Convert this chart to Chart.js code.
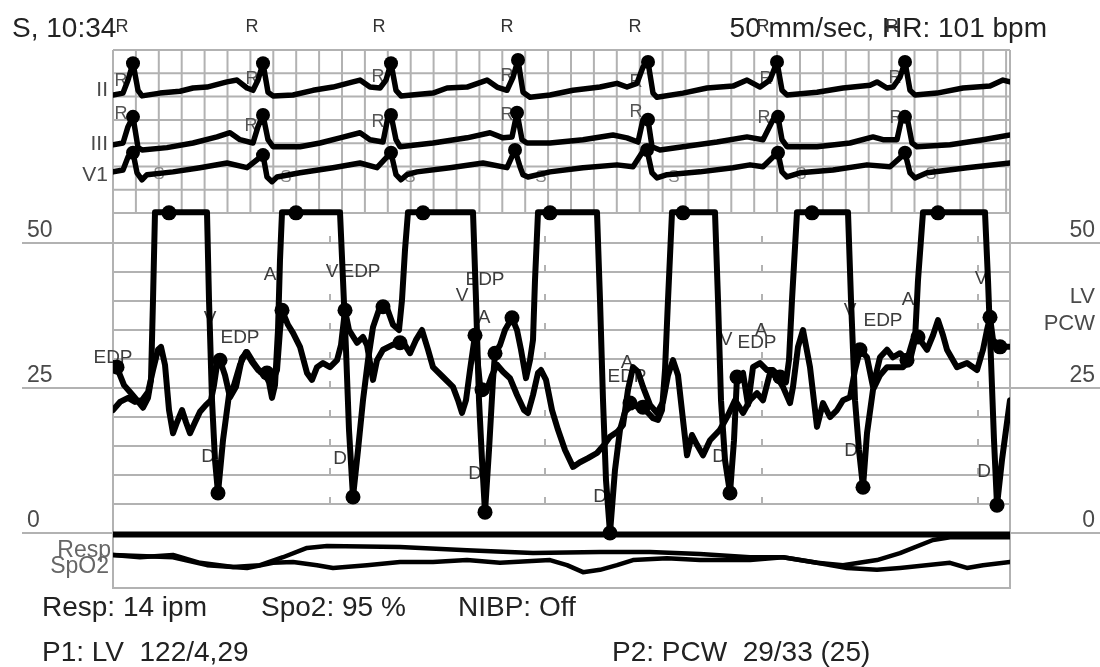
<!DOCTYPE html>
<html>
<head>
<meta charset="utf-8">
<script src="https://cdn.jsdelivr.net/npm/chart.js@4.4.0/dist/chart.umd.min.js"></script>
<style>
  body { margin: 0; background: #fff; }
  #wrap { width: 1100px; height: 667px; position: relative; }
</style>
</head>
<body>
<div id="wrap"><canvas id="hemo-chart"></canvas></div>
<script>
// x = sample index along the sweep (about 4.6 ms each at 50 mm/sec)
// pressures in mmHg, ECG in mV from each lead's baseline

var lvPressure = [
  [0, 29.3], [5, 28.1], [11, 25.5], [17, 24.3], [24, 22.9], [30, 21.6], [35, 23.3], [38, 26.4], [40, 40.2], [42, 55.3],
  [94, 55.3], [96, 40.2], [99, 22.9], [102, 12.6], [105, 6.9], [110, 16.0], [116, 23.8], [121, 25.5], [127, 29.0], [133, 31.2],
  [139, 29.5], [145, 28.1], [151, 27.8], [156, 26.0], [159, 23.3], [162, 25.5], [165, 35.0], [167, 47.1], [169, 55.3],
  [227, 55.3], [230, 43.6], [233, 31.6], [236, 17.8], [240, 6.2], [245, 14.3], [250, 22.9], [255, 29.8], [260, 35.5], [267, 39.0],
  [274, 38.8], [280, 35.9], [286, 35.0], [289, 40.2], [292, 48.8], [295, 55.3],
  [360, 55.3], [363, 40.2], [366, 22.9], [369, 12.6], [372, 3.6], [376, 14.3], [380, 26.4], [382, 31.0], [387, 32.4], [392, 35.0],
  [399, 37.1], [404, 35.0], [408, 31.6], [413, 26.7], [417, 29.8], [420, 33.3], [422, 43.6], [425, 55.3],
  [484, 55.3], [487, 40.2], [490, 22.9], [493, 9.1], [497, 0.0], [502, 10.9], [507, 17.8], [512, 20.9], [519, 22.1], [527, 21.6],
  [534, 20.9], [540, 19.8], [545, 19.5], [549, 21.2], [552, 28.1], [555, 40.2], [559, 55.3],
  [602, 55.3], [605, 40.2], [608, 22.9], [612, 12.6], [617, 6.9], [621, 16.0], [624, 26.9], [630, 27.6], [635, 22.1], [640, 28.6],
  [647, 29.3], [654, 28.1], [660, 28.1], [667, 26.9], [673, 26.0], [676, 29.8], [679, 40.2], [684, 55.3],
  [735, 55.3], [738, 40.2], [742, 22.9], [746, 14.3], [750, 7.9], [754, 17.2], [760, 24.7], [767, 27.2], [774, 28.6], [782, 28.6],
  [790, 28.6], [797, 29.8], [802, 33.3], [805, 43.6], [810, 55.3],
  [872, 55.3], [875, 43.6], [878, 29.8], [881, 16.0], [884, 4.8], [889, 12.6], [893, 17.8], [897, 22.9]
];

var pcwPressure = [
  [0, 21.2], [7, 22.6], [15, 23.3], [22, 22.6], [29, 22.9], [35, 24.3], [40, 28.1], [45, 31.6], [48, 32.1], [52, 29.0],
  [56, 21.2], [60, 17.2], [64, 19.1], [69, 21.2], [73, 19.1], [77, 17.2], [82, 19.1], [87, 20.9], [93, 22.1], [98, 22.9],
  [101, 25.5], [104, 29.0], [107, 29.8], [112, 27.2], [117, 23.4], [123, 25.2], [129, 30.2], [134, 31.2], [140, 29.5], [147, 27.8],
  [154, 26.9], [160, 26.4], [164, 28.1], [167, 35.0], [169, 38.4], [175, 35.9], [180, 34.5], [187, 32.1], [194, 27.6], [199, 26.4],
  [204, 28.6], [210, 29.3], [217, 28.6], [224, 29.8], [228, 32.4], [232, 38.4], [236, 35.0], [244, 32.8], [250, 33.8], [254, 32.4],
  [260, 26.4], [264, 29.8], [270, 31.6], [279, 32.4], [285, 32.8], [292, 32.4], [297, 31.0], [303, 33.3], [309, 35.0], [315, 31.6],
  [320, 28.6], [330, 26.9], [340, 25.2], [345, 22.9], [349, 20.7], [353, 22.9], [357, 28.1], [362, 34.1], [367, 25.5], [373, 24.3],
  [379, 27.2], [384, 29.0], [390, 27.8], [397, 26.7], [404, 23.8], [411, 21.2], [415, 20.7], [420, 23.8], [425, 27.6], [428, 28.1],
  [433, 26.4], [439, 21.2], [445, 17.8], [452, 14.3], [460, 11.4], [467, 12.2], [475, 12.9], [484, 13.8], [491, 15.2], [497, 16.6],
  [504, 17.4], [510, 18.6], [515, 24.7], [520, 28.6], [525, 27.8], [530, 25.2], [537, 22.1], [544, 20.7], [550, 22.6], [555, 27.2],
  [560, 29.8], [565, 27.2], [570, 19.5], [574, 13.4], [579, 16.9], [584, 15.2], [590, 13.4], [597, 16.0], [607, 17.8], [615, 20.3],
  [622, 22.9], [630, 20.7], [637, 22.9], [644, 24.1], [650, 22.9], [657, 27.6], [664, 26.9], [670, 25.2], [677, 22.4], [680, 25.2],
  [685, 32.1], [690, 35.0], [697, 28.6], [704, 18.3], [710, 22.4], [717, 20.0], [724, 21.2], [730, 22.9], [737, 23.4], [742, 28.1],
  [747, 31.6], [754, 30.3], [760, 25.2], [767, 30.3], [774, 31.6], [780, 30.3], [787, 31.0], [794, 29.8], [800, 33.3], [805, 33.8],
  [814, 31.6], [820, 34.1], [825, 36.7], [830, 34.1], [834, 31.6], [844, 28.6], [854, 29.3], [864, 28.1], [870, 31.6], [874, 35.0],
  [877, 37.2], [880, 33.3], [885, 32.4], [890, 32.1], [897, 32.1]
];

var lvPeakDots = [[56, 55.2], [183, 55.2], [310, 55.2], [437, 55.2], [570, 55.2], [699, 55.2], [825, 55.2]];
var lvTroughDots = [[105, 6.9], [240, 6.2], [372, 3.6], [497, 0.0], [617, 6.9], [750, 7.9], [884, 4.8]];
var waveDots = [
  [4, 28.6], [107, 29.8], [154, 27.6], [169, 38.4], [232, 38.4], [270, 39.0], [287, 32.8], [362, 34.1], [369, 24.7],
  [382, 31.0], [399, 37.1], [517, 22.4], [530, 21.7], [624, 26.9], [667, 26.9], [747, 31.6], [794, 29.8], [805, 33.8],
  [877, 37.2], [887, 32.1]
];

var ecgII = [
  [0, -0.04], [10, 0], [15, 0.28], [20, 0.64], [25, 0.06], [29, -0.06], [47, 0], [67, 0.04], [80, 0.11], [94, 0.13],
  [114, 0.24], [124, 0.28], [134, 0.11], [140, 0.06], [145, 0.28], [150, 0.64], [155, 0.02], [160, -0.06], [180, -0.04], [200, 0.06],
  [220, 0.13], [240, 0.24], [247, 0.28], [257, 0.13], [267, 0.11], [273, 0.28], [278, 0.64], [283, 0.06], [288, -0.06], [320, 0],
  [334, 0.11], [354, 0.13], [374, 0.28], [384, 0.13], [394, 0.06], [400, 0.34], [405, 0.71], [410, 0.02], [417, -0.09], [437, -0.04],
  [460, 0.06], [487, 0.13], [504, 0.21], [514, 0.13], [524, 0.21], [530, 0.56], [535, 0.67], [540, 0], [544, -0.09], [570, 0],
  [594, 0.11], [620, 0.15], [634, 0.28], [647, 0.13], [657, 0.28], [664, 0.67], [669, 0.06], [674, -0.04], [704, 0.02], [730, 0.11],
  [757, 0.17], [764, 0.24], [774, 0.11], [780, 0.13], [787, 0.34], [792, 0.67], [797, 0.06], [802, -0.04], [824, 0], [850, 0.11],
  [877, 0.15], [890, 0.28], [897, 0.24]
];
var ecgIII = [
  [0, 0], [10, 0.04], [15, 0.39], [20, 0.60], [25, -0.06], [29, -0.11], [54, -0.06], [80, 0.04], [104, 0.17], [117, 0.26],
  [127, 0.11], [140, 0.04], [145, 0.39], [150, 0.64], [155, 0.11], [160, -0.04], [187, -0.04], [207, 0.04], [227, 0.15], [247, 0.26],
  [257, 0.11], [270, 0.06], [275, 0.60], [278, 0.64], [283, 0.11], [287, -0.04], [320, 0.04], [354, 0.15], [377, 0.26], [390, 0.15],
  [399, 0.17], [404, 0.69], [409, 0.11], [414, 0.04], [437, 0.04], [470, 0.11], [500, 0.21], [514, 0.15], [525, 0.06], [530, 0.54],
  [535, 0.54], [539, -0.04], [547, -0.11], [570, -0.04], [604, 0.06], [634, 0.17], [650, 0.11], [660, 0.54], [665, 0.60], [669, 0.11],
  [674, -0.04], [704, -0.04], [737, 0.04], [760, 0.17], [770, 0.11], [784, 0.11], [789, 0.60], [794, 0.60], [799, 0.04], [804, -0.04],
  [837, 0], [870, 0.11], [897, 0.21]
];
var ecgV1 = [
  [0, 0], [10, 0.04], [15, 0.32], [20, 0.41], [24, -0.02], [29, -0.17], [34, -0.06], [60, 0], [87, 0.09], [114, 0.19],
  [134, 0.09], [144, 0.26], [150, 0.36], [154, -0.11], [159, -0.21], [164, -0.11], [187, -0.02], [220, 0.09], [247, 0.19], [264, 0.09],
  [274, 0.32], [278, 0.41], [283, -0.06], [288, -0.17], [294, -0.06], [304, 0], [337, 0.09], [370, 0.19], [394, 0.09], [402, 0.47],
  [407, 0.11], [410, -0.06], [415, -0.11], [437, 0], [470, 0.09], [504, 0.15], [520, 0.11], [529, 0.41], [534, 0.47], [539, -0.02],
  [544, -0.13], [554, -0.06], [587, 0], [620, 0.09], [637, 0.15], [650, 0.11], [660, 0.32], [665, 0.41], [669, 0], [674, -0.11],
  [687, -0.02], [720, 0.04], [754, 0.15], [777, 0.11], [787, 0.30], [792, 0.41], [797, -0.02], [802, -0.13], [814, -0.02], [854, 0.09],
  [897, 0.19]
];
var rDotsII = [[20, 0.64], [150, 0.64], [278, 0.64], [405, 0.71], [535, 0.67], [664, 0.67], [792, 0.67]];
var rDotsIII = [[20, 0.60], [150, 0.64], [278, 0.64], [404, 0.69], [535, 0.54], [665, 0.60], [792, 0.60]];
var rDotsV1 = [[20, 0.41], [150, 0.36], [278, 0.41], [402, 0.47], [534, 0.47], [665, 0.41], [792, 0.41]];

var respTrace = [
  [0, 0.11], [27, 0.06], [60, 0.11], [87, -0.06], [120, -0.15], [147, -0.11], [170, 0.06], [194, 0.26], [214, 0.30], [287, 0.28],
  [354, 0.21], [420, 0.15], [487, 0.17], [537, 0.17], [587, 0.13], [637, 0.06], [670, 0.06], [704, -0.06], [730, -0.11], [764, 0],
  [787, 0.15], [820, 0.43], [837, 0.49], [897, 0.49]
];
var spo2Trace = [
  [0, 0.11], [60, 0.06], [94, -0.11], [134, -0.17], [160, -0.06], [180, -0.04], [204, -0.11], [220, -0.17], [254, -0.11], [287, -0.04],
  [320, -0.04], [354, 0], [387, -0.06], [437, 0], [454, -0.11], [470, -0.26], [487, -0.21], [504, -0.11], [520, 0], [554, 0.04],
  [587, 0], [637, 0], [670, 0.06], [704, -0.06], [734, -0.17], [764, -0.21], [787, -0.17], [837, -0.06], [854, -0.17], [870, -0.11],
  [897, -0.04]
];
var zeroTrace = [[0, -0.25], [897, -0.25]];

// marker letters written by the monitor: [sample, mmHg, text]
var pressureLabels = [
  [0, 30.2, 'EDP'], [97, 36.9, 'V'], [127, 33.6, 'EDP'], [95, 13.1, 'D'], [157, 44.5, 'A'], [219, 45.0, 'V'], [248, 45.0, 'EDP'],
  [227, 12.8, 'D'], [372, 43.6, 'EDP'], [349, 40.9, 'V'], [371, 37.1, 'A'], [362, 10.2, 'D'], [514, 29.3, 'A'], [514, 26.9, 'EDP'],
  [487, 6.2, 'D'], [613, 33.4, 'V'], [644, 32.8, 'EDP'], [648, 34.8, 'A'], [606, 13.1, 'D'], [737, 38.3, 'V'], [770, 36.6, 'EDP'],
  [795, 40.2, 'A'], [738, 14.1, 'D'], [868, 43.8, 'V'], [871, 10.5, 'D']
];
var rLabelsTop = [9, 139, 266, 394, 522, 650, 779];
var rLabelsII = [[8, 0.26], [139, 0.30], [265, 0.34], [394, 0.36], [523, 0.24], [653, 0.30], [782, 0.32]];
var rLabelsIII = [[8, 0.67], [138, 0.41], [265, 0.49], [394, 0.64], [523, 0.71], [651, 0.58], [783, 0.58]];
var sLabelsV1 = [[46, -0.06], [173, -0.11], [297, -0.11], [428, -0.11], [561, -0.11], [688, -0.06], [818, -0.06]];

var pressureAxisTicks = [0, 25, 50];
var pressureGridStep = 5;
var pressureGridTop = 50;

// layout of the strip axis (mV units, 1 mV = two ECG boxes)
var leadBase = { II: 10.62, III: 9.51, V1: 8.93 };
var respBase = 0.6;
var ecgPaperBottom = 8.045;
var ecgBox = 0.5;
var sweepBox = 22.9;
var secondMarks = [217, 432, 649, 865];

function pts(arr, offset) {
  return arr.map(function (p) { return { x: p[0], y: p[1] + (offset || 0) }; });
}

function trace(arr, axis, offset, width) {
  return {
    data: pts(arr, offset), yAxisID: axis, showLine: true, borderColor: '#000', backgroundColor: '#000',
    borderWidth: width, pointRadius: 0, tension: 0, borderJoinStyle: 'round', borderCapStyle: 'round'
  };
}

function dots(arr, axis, offset, r) {
  return { data: pts(arr, offset), yAxisID: axis, showLine: false, pointRadius: r, backgroundColor: '#000', borderColor: '#000', borderWidth: 0 };
}

var FONT = 'Liberation Sans, Arial, sans-serif';

var monitorGrid = {
  id: 'monitorGrid',
  beforeDatasetsDraw: function (chart) {
    var ctx = chart.ctx, a = chart.chartArea;
    var xs = chart.scales.x, yp = chart.scales.y, ys = chart.scales.yS;
    var i, px, py;
    ctx.save();
    ctx.strokeStyle = '#b2b2b2';
    ctx.lineWidth = 2;
    // ECG paper boxes
    var paperBottom = ys.getPixelForValue(ecgPaperBottom);
    ctx.beginPath();
    for (i = 0; i * sweepBox <= xs.max; i++) {
      px = xs.getPixelForValue(i * sweepBox);
      ctx.moveTo(px, a.top); ctx.lineTo(px, paperBottom);
    }
    for (i = 0; ys.max - i * ecgBox >= ecgPaperBottom - 0.01; i++) {
      py = ys.getPixelForValue(ys.max - i * ecgBox);
      ctx.moveTo(a.left, py); ctx.lineTo(a.right, py);
    }
    // pressure lines every 5 mmHg
    for (var mm = pressureGridStep; mm <= pressureGridTop; mm += pressureGridStep) {
      py = yp.getPixelForValue(mm);
      ctx.moveTo(a.left, py); ctx.lineTo(a.right, py);
      secondMarks.forEach(function (s) {
        var sx = xs.getPixelForValue(s);
        ctx.moveTo(sx, py - 7); ctx.lineTo(sx, py);
      });
    }
    // frame
    ctx.moveTo(a.left, a.top); ctx.lineTo(a.left, a.bottom); ctx.lineTo(a.right, a.bottom); ctx.lineTo(a.right, a.top);
    ctx.stroke();
    // scale lines reaching out to the side labels
    ctx.beginPath();
    pressureAxisTicks.forEach(function (v) {
      py = yp.getPixelForValue(v);
      ctx.moveTo(22, py); ctx.lineTo(a.left, py);
      ctx.moveTo(a.right, py); ctx.lineTo(chart.width, py);
    });
    ctx.stroke();

    // side labels
    ctx.fillStyle = '#4a4a4a';
    ctx.font = '23px ' + FONT;
    ctx.textBaseline = 'alphabetic';
    pressureAxisTicks.forEach(function (v) {
      py = yp.getPixelForValue(v) - 6;
      ctx.textAlign = 'left'; ctx.fillText(String(v), 27, py);
      ctx.textAlign = 'right'; ctx.fillText(String(v), 1095, py);
    });
    ctx.font = '22px ' + FONT;
    ctx.textAlign = 'right';
    ctx.fillText('LV', 1095, yp.getPixelForValue(39.6));
    ctx.fillText('PCW', 1095, yp.getPixelForValue(35));

    // lead names
    ctx.font = '21px ' + FONT;
    ctx.textBaseline = 'middle';
    ctx.fillText('II', 108, ys.getPixelForValue(leadBase.II) - 3);
    ctx.fillText('III', 108, ys.getPixelForValue(leadBase.III) - 1);
    ctx.fillText('V1', 108, ys.getPixelForValue(leadBase.V1) + 3);
    ctx.font = '23px ' + FONT;
    ctx.fillStyle = '#666';
    ctx.textBaseline = 'alphabetic';
    ctx.fillText('Resp', 111, ys.getPixelForValue(respBase) - 3);
    ctx.fillText('SpO2', 109, ys.getPixelForValue(respBase) + 13);

    // monitor marker letters
    ctx.textAlign = 'center';
    ctx.textBaseline = 'middle';
    ctx.fillStyle = '#3c3c3c';
    ctx.font = '19px ' + FONT;
    pressureLabels.forEach(function (l) {
      ctx.fillText(l[2], xs.getPixelForValue(l[0]), yp.getPixelForValue(l[1]));
    });
    ctx.fillStyle = '#555';
    ctx.font = '18px ' + FONT;
    rLabelsII.forEach(function (l) { ctx.fillText('R', xs.getPixelForValue(l[0]), ys.getPixelForValue(leadBase.II + l[1])); });
    rLabelsIII.forEach(function (l) { ctx.fillText('R', xs.getPixelForValue(l[0]), ys.getPixelForValue(leadBase.III + l[1])); });
    ctx.fillStyle = '#888';
    ctx.font = '17px ' + FONT;
    sLabelsV1.forEach(function (l) { ctx.fillText('S', xs.getPixelForValue(l[0]), ys.getPixelForValue(leadBase.V1 + l[1])); });
    ctx.restore();
  },
  afterDraw: function (chart) {
    var ctx = chart.ctx, a = chart.chartArea, xs = chart.scales.x;
    ctx.save();
    ctx.fillStyle = '#222';
    ctx.font = '28px ' + FONT;
    ctx.textBaseline = 'alphabetic';
    ctx.textAlign = 'left';
    ctx.fillText('S, 10:34', 12, 37);
    ctx.textAlign = 'right';
    ctx.fillText('50 mm/sec, HR: 101 bpm', 1047, 37);
    ctx.fillStyle = '#333';
    ctx.font = '18px ' + FONT;
    ctx.textAlign = 'center';
    ctx.textBaseline = 'middle';
    rLabelsTop.forEach(function (s) { ctx.fillText('R', xs.getPixelForValue(s), a.top - 23); });
    ctx.fillStyle = '#222';
    ctx.font = '28px ' + FONT;
    ctx.textAlign = 'left';
    ctx.textBaseline = 'alphabetic';
    ctx.fillText('Resp: 14 ipm', 42, a.bottom + 28);
    ctx.fillText('Spo2: 95 %', 261, a.bottom + 28);
    ctx.fillText('NIBP: Off', 458, a.bottom + 28);
    ctx.fillText('P1: LV  122/4,29', 42, a.bottom + 73);
    ctx.fillText('P2: PCW  29/33 (25)', 612, a.bottom + 73);
    ctx.restore();
  }
};

var datasets = [
  trace(zeroTrace, 'y', 0, 6),
  trace(respTrace, 'yS', respBase, 4.5),
  trace(spo2Trace, 'yS', respBase, 4.5),
  trace(ecgII, 'yS', leadBase.II, 5.5),
  trace(ecgIII, 'yS', leadBase.III, 5.5),
  trace(ecgV1, 'yS', leadBase.V1, 5.5),
  dots(rDotsII, 'yS', leadBase.II, 7),
  dots(rDotsIII, 'yS', leadBase.III, 7),
  dots(rDotsV1, 'yS', leadBase.V1, 7),
  trace(pcwPressure, 'y', 0, 6),
  trace(lvPressure, 'y', 0, 6),
  dots(lvPeakDots, 'y', 0, 7.5),
  dots(lvTroughDots, 'y', 0, 7.5),
  dots(waveDots, 'y', 0, 7.5)
];

var canvas = document.getElementById('hemo-chart');
var hemoChart = new Chart(canvas, {
  type: 'scatter',
  data: { datasets: datasets },
  options: {
    responsive: true,
    maintainAspectRatio: false,
    animation: false,
    layout: { padding: { left: 113, right: 90, top: 50, bottom: 79 } },
    plugins: { legend: { display: false }, tooltip: { enabled: false } },
    scales: {
      x: { type: 'linear', min: 0, max: 897, display: false },
      y: { type: 'linear', min: -9.48, max: 83.28, display: false },
      yS: { type: 'linear', min: 0, max: 11.545, display: false }
    }
  },
  plugins: [monitorGrid]
});
</script>
</body>
</html>
